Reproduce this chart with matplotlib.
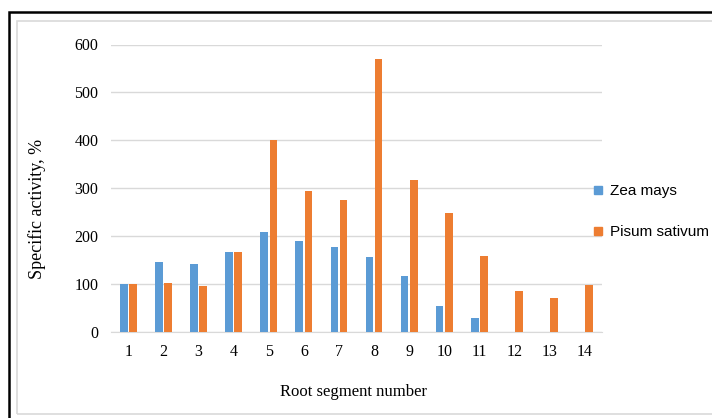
import matplotlib.pyplot as plt
import numpy as np
from matplotlib.patches import Rectangle
from matplotlib.lines import Line2D

segments = [str(i) for i in range(1, 15)]
zea_mays = [100, 146, 142, 168, 208, 190, 178, 156, 117, 54, 29, 0, 0, 0]
pisum_sativum = [100, 103, 97, 167, 400, 295, 275, 569, 318, 249, 158, 85, 70, 98]

blue = "#5B9BD5"
orange = "#ED7D31"

fig = plt.figure(figsize=(7.12, 4.18), dpi=100)
ax = fig.add_axes([111 / 712, 86 / 418, 491 / 712, 287.5 / 418])

x = np.arange(len(segments))
w = 0.22
ax.bar(x - w / 2 - 0.02, zea_mays, w, color=blue, label="Zea mays", zorder=3)
ax.bar(x + w / 2 + 0.02, pisum_sativum, w, color=orange, label="Pisum sativum", zorder=3)

ax.set_xlim(-0.5, len(segments) - 0.5)
ax.set_ylim(0, 600)
ax.set_yticks(range(0, 601, 100))
ax.set_xticks(x)
ax.set_xticklabels(segments)
ax.grid(axis="y", color="#D9D9D9", linewidth=1, zorder=0)
for s in ["top", "right", "left"]:
    ax.spines[s].set_visible(False)
ax.spines["bottom"].set_color("#D9D9D9")
ax.tick_params(axis="x", length=0, labelsize=11.5, pad=9)
ax.tick_params(axis="y", length=0, labelsize=11.5, pad=9)
for lbl in ax.get_xticklabels() + ax.get_yticklabels():
    lbl.set_fontfamily("Liberation Serif")

fig.text(354 / 712, 1 - 392 / 418, "Root segment number", ha="center", va="center",
         family="Liberation Serif", fontsize=12)
fig.text(37 / 712, 1 - 209 / 418, "Specific activity, %", ha="center", va="center",
         rotation=90, family="Liberation Serif", fontsize=13)

handles = [Line2D([], [], marker="s", ls="none", color=blue, markersize=6),
           Line2D([], [], marker="s", ls="none", color=orange, markersize=6)]
fig.legend(handles, ["Zea mays", "Pisum sativum"], loc="center left",
           bbox_to_anchor=(578 / 712, 1 - 211.5 / 418), frameon=False,
           prop={"family": "Liberation Sans", "size": 11},
           handlelength=0.8, handletextpad=0.4, labelspacing=1.75)

# outer frame of the original figure
fig.add_artist(Rectangle((17 / 712, 4 / 418), 1.2, 1 - 25 / 418,
                         transform=fig.transFigure, fill=False,
                         edgecolor="#D9D9D9", linewidth=1.2))
fig.add_artist(Rectangle((9 / 712, -0.2), 1.2, 1.2 - 12 / 418,
                         transform=fig.transFigure, fill=False,
                         edgecolor="black", linewidth=1.8))

fig.savefig("out.png", dpi=100)
